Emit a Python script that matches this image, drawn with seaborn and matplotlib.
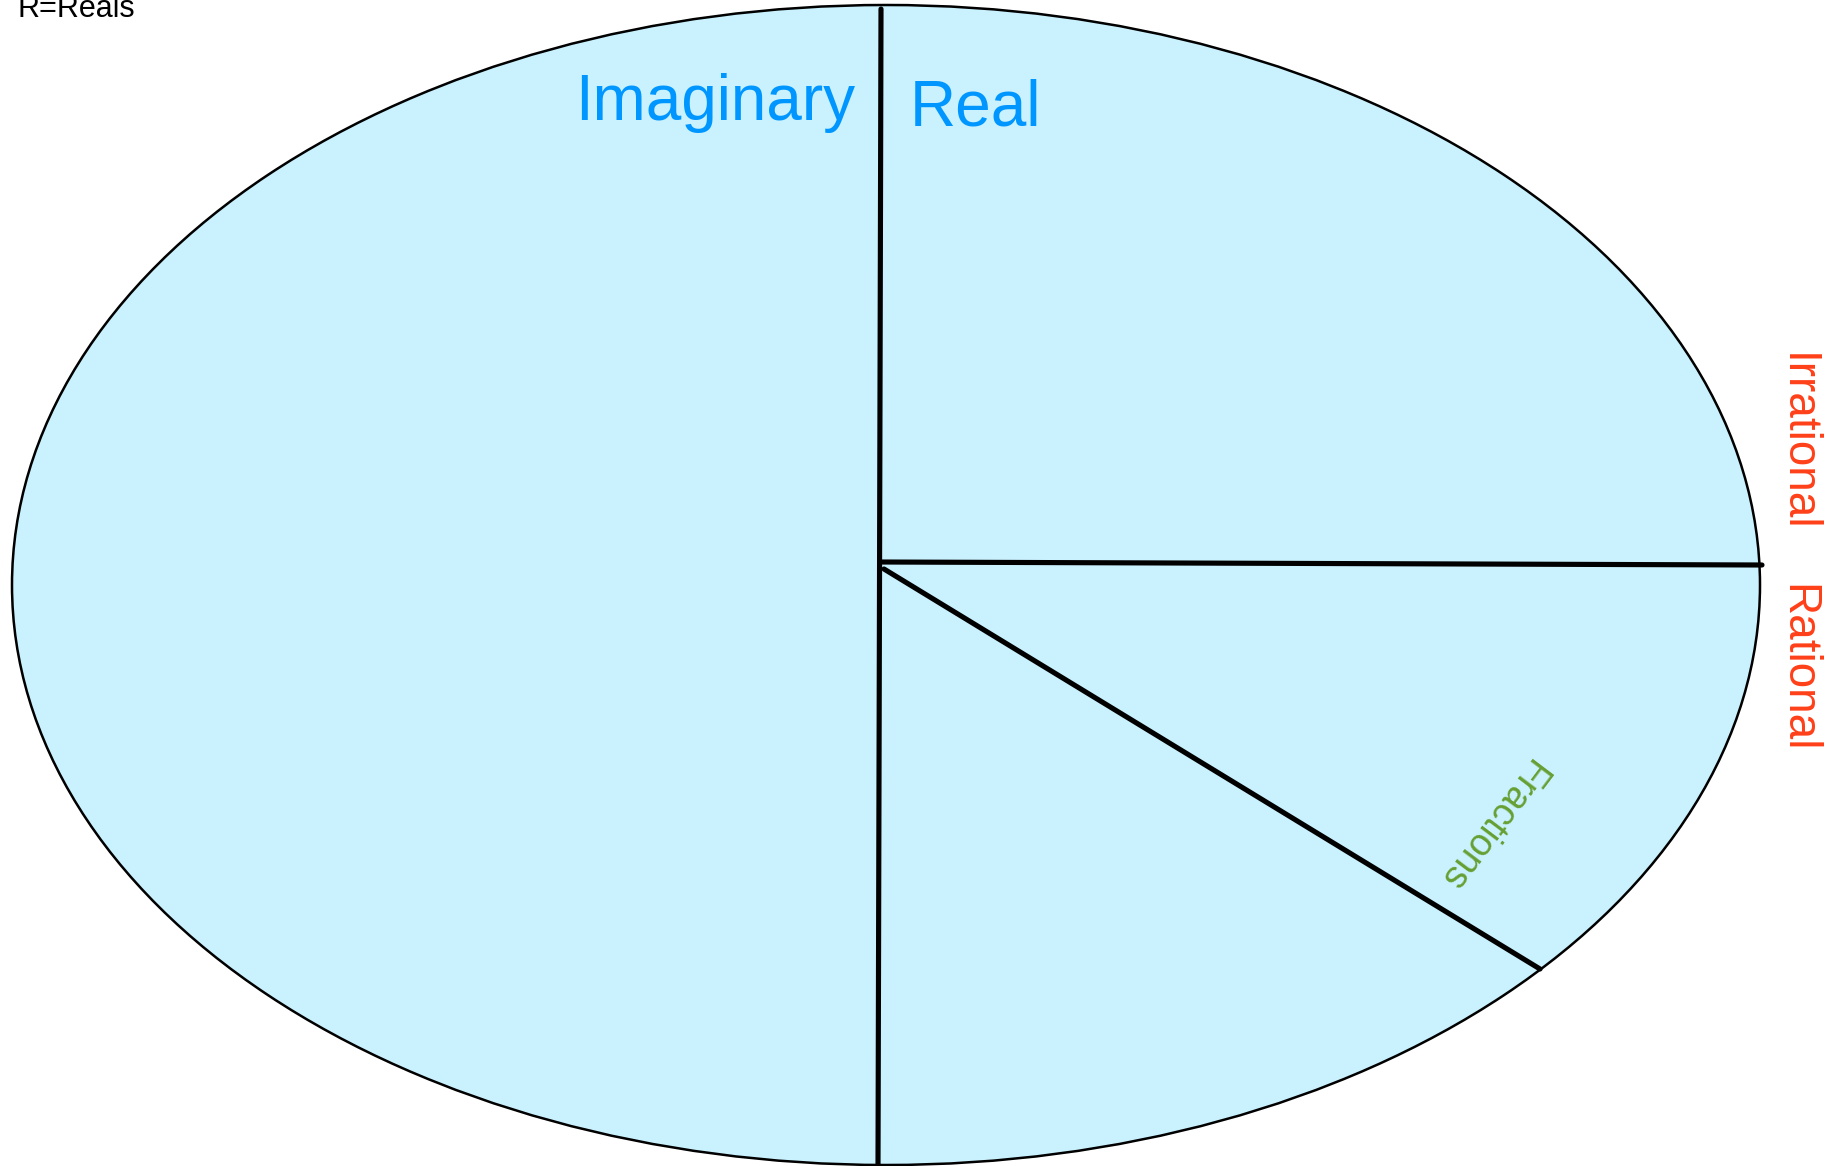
# Number sets diagram : -

import seaborn as sns
import matplotlib.pyplot as plt
from matplotlib.patches import Ellipse

# Pixel space of the picture
width_px = 1841
height_px = 1166

# Outer ellipse (centre x, centre y, width, height)
ellipse_box = [886, 585, 1748, 1160]

# Dividing lines: x points and y points
split_x = [881, 878]
split_y = [9, 1166]
irr_x = [880, 1762]
irr_y = [562, 565]
frac_x = [884, 1540]
frac_y = [569, 969]

# Labels
labels = ["Imaginary", "Real", "Irrational", "Rational", "Fractions"]
label_x = [855, 910, 1797, 1797, 1490]
label_y = [120, 125, 442, 668, 825]

sns.set_style("white")
plt.rcParams['font.family'] = ['Liberation Sans', 'DejaVu Sans']

fig = plt.figure(figsize=(width_px / 100, height_px / 100), dpi=100)
ax = fig.add_axes([0, 0, 1, 1])
ax.set_xlim(0, width_px)
ax.set_ylim(height_px, 0)
ax.axis("off")

ax.add_patch(Ellipse((ellipse_box[0], ellipse_box[1]), ellipse_box[2], ellipse_box[3],
                     facecolor="#C9F1FE", edgecolor="black", linewidth=1.8))

sns.lineplot(x=split_x, y=split_y, color="black", linewidth=3.7, ax=ax, sort=False)
sns.lineplot(x=irr_x, y=irr_y, color="black", linewidth=3.7, ax=ax, sort=False)
sns.lineplot(x=frac_x, y=frac_y, color="black", linewidth=3.7, ax=ax, sort=False)

# the title sits partly above the top edge, as in the source picture
ax.text(18, 17, "R=Reals", fontsize=22, color="black", ha="left", va="baseline")
ax.text(label_x[0], label_y[0], labels[0], fontsize=46, color="#0096FF",
        ha="right", va="baseline")
ax.text(label_x[1], label_y[1], labels[1], fontsize=46, color="#0096FF",
        ha="left", va="baseline")
ax.text(label_x[2], label_y[2], labels[2], fontsize=33, color="#FF4019",
        rotation=-90, ha="center", va="center")
ax.text(label_x[3], label_y[3], labels[3], fontsize=33, color="#FF4019",
        rotation=-90, ha="center", va="center")
ax.text(label_x[4], label_y[4], labels[4], fontsize=27, color="#66A033",
        rotation=233, ha="center", va="center", rotation_mode="anchor")

fig.savefig("out.png", dpi=100)
